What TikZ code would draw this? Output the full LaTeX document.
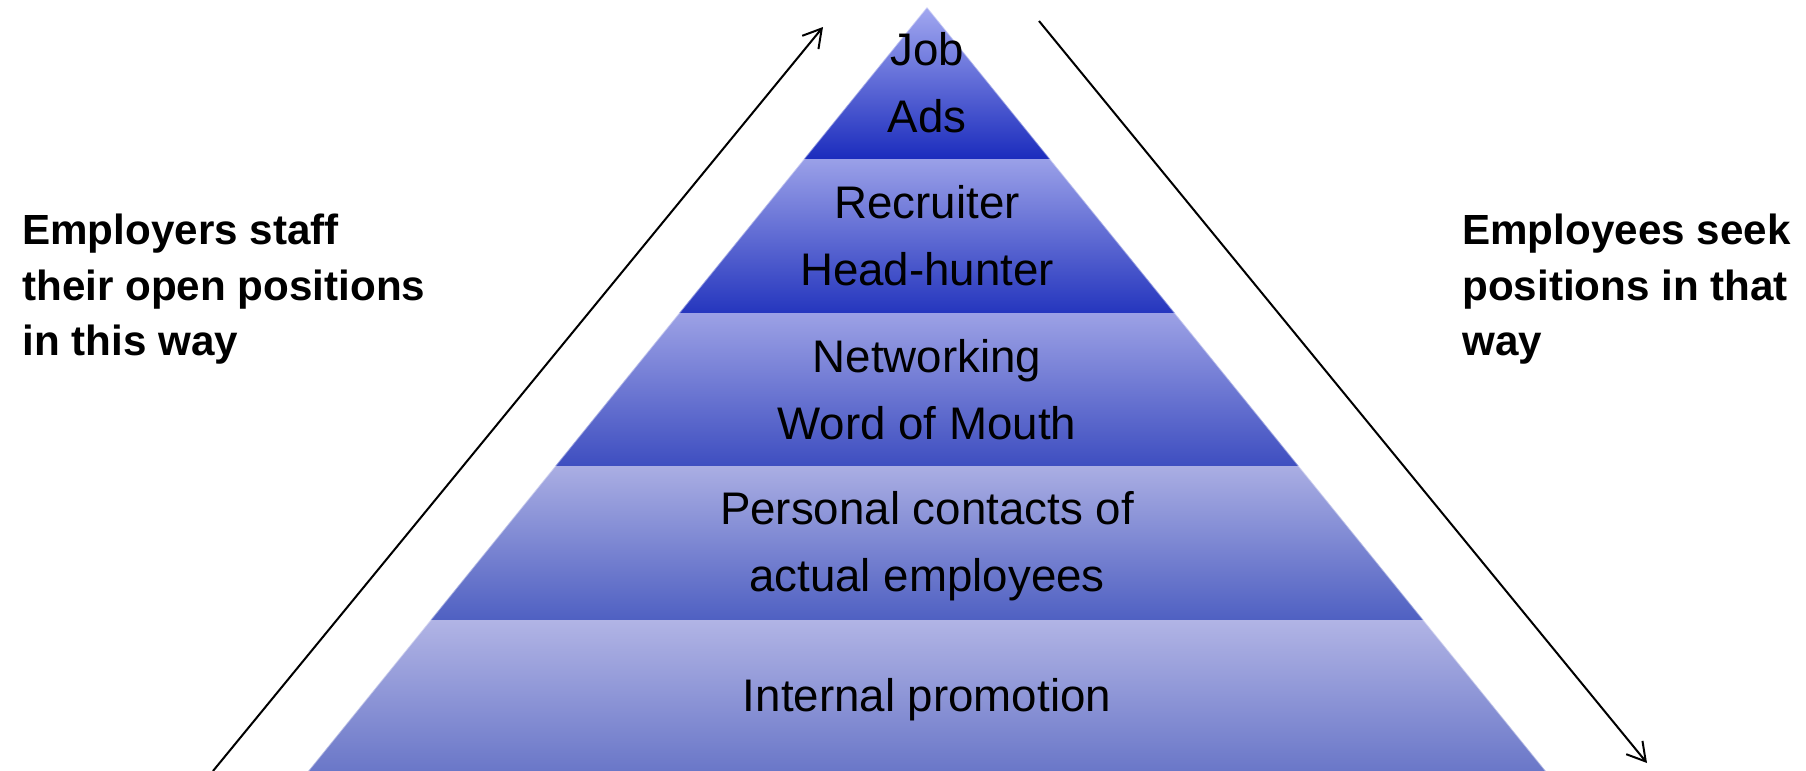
\documentclass[tikz,border=0pt]{standalone}
\usepackage{fontspec}
\setmainfont{Liberation Sans}
\usepackage{xcolor}
\usepackage{tikz}
\usetikzlibrary{arrows.meta}

\definecolor{jobtop}{HTML}{A2A8F0}
\definecolor{jobbot}{HTML}{1B2CBD}
\definecolor{rectop}{HTML}{9AA0E8}
\definecolor{recbot}{HTML}{2536BE}
\definecolor{nettop}{HTML}{9CA1E5}
\definecolor{netbot}{HTML}{3E4EC0}
\definecolor{pertop}{HTML}{AAAEE3}
\definecolor{perbot}{HTML}{4F60C2}
\definecolor{inttop}{HTML}{B1B4E5}
\definecolor{intbot}{HTML}{6A77C8}

\begin{document}
\begin{tikzpicture}[x=0.02cm, y=-0.02cm, >={Straight Barb[length=0.36cm, width=0.42cm]}]
	\tikzstyle{level} = [align=center, inner sep=0pt, font=\fontsize{26pt}{38pt}\selectfont]
	\tikzstyle{side} = [align=left, anchor=north west, inner sep=0pt, font=\fontsize{24pt}{31.6pt}\selectfont\bfseries]
	\tikzstyle{arrow} = [line width=0.04cm, ->]
	\tikzstyle{edge} = [white, opacity=0.45, line width=0.03cm]
	
	\useasboundingbox (0, 0) rectangle (1806, 771);
	
	% bands of the pyramid
	\shade[top color=jobtop, bottom color=jobbot] (927, 7) -- (1050.1, 159) -- (803.9, 159) -- cycle;
	\shade[top color=rectop, bottom color=recbot] (803.9, 159) -- (1050.1, 159) -- (1174.9, 313) -- (679.1, 313) -- cycle;
	\shade[top color=nettop, bottom color=netbot] (679.1, 313) -- (1174.9, 313) -- (1298.8, 466) -- (555.2, 466) -- cycle;
	\shade[top color=pertop, bottom color=perbot] (555.2, 466) -- (1298.8, 466) -- (1423.5, 620) -- (430.5, 620) -- cycle;
	\shade[top color=inttop, bottom color=intbot] (430.5, 620) -- (1423.5, 620) -- (1545.8, 771) -- (308.2, 771) -- cycle;
	
	\draw[edge] (927, 7) -- (308.2, 771);
	\draw[edge] (927, 7) -- (1545.8, 771);
	
	\node[level]	at (927, 83)	(l1)	{Job\\Ads};
	\node[level]	at (927, 236)	(l2)	{Recruiter\\Head-hunter};
	\node[level]	at (927, 390)	(l3)	{Networking\\Word of Mouth};
	\node[level]	at (927, 546)	(l4)	{Personal contacts of\\actual employees};
	\node[level]	at (927, 700)	(l5)	{Internal promotion};
	
	\node[side]		at (22, 214)	(staff)	{Employers staff\\their open positions\\in this way};
	\node[side]		at (1462, 214)	(seek)	{Employees seek\\positions in that\\way};
	
	\coordinate (up0) at (213, 771);
	\coordinate (up1) at (823, 27);
	\coordinate (dn0) at (1039, 21);
	\coordinate (dn1) at (1647, 763);
	
	\draw [arrow] (up0) -- (up1);
	\draw [arrow] (dn0) -- (dn1);
\end{tikzpicture}
\end{document}
